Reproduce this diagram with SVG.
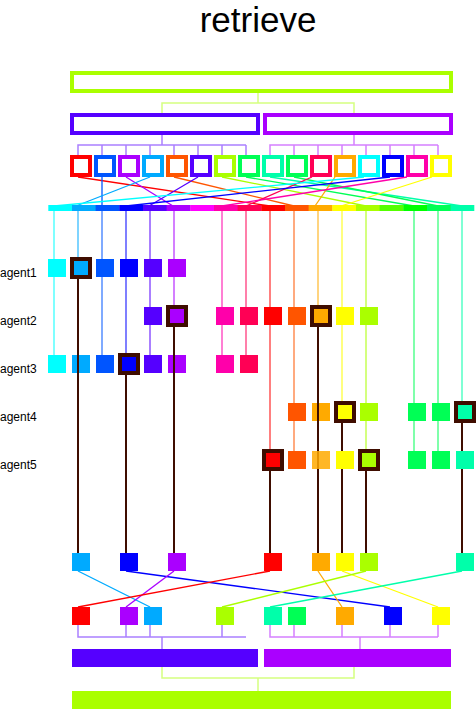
<svg xmlns="http://www.w3.org/2000/svg" width="476" height="710" viewBox="0 0 476 710">
<style>
.t{font-family:"Liberation Sans",Arial,Helvetica,sans-serif;fill:#000}
.lbl{font-size:12px}
.box{fill:#fff;stroke-width:4}
.br{fill:none;stroke-width:1.5;stroke-opacity:0.5}
.ln{fill:none;stroke-width:1.3}
.col{fill:none;stroke-width:2;stroke-opacity:0.5}
.dk{fill:none;stroke:#3f0d00;stroke-width:2}
.sel{stroke:#3f0d00;stroke-width:4}
</style>
<rect width="476" height="710" fill="#fff"/>
<text class="t" x="258" y="31.5" font-size="35" text-anchor="middle">retrieve</text>

<g id="connectors">
  <path class="br" stroke="#aaff00" d="M258,93V103M162,113V103H354V113"/>
  <path class="br" stroke="#5500ff" d="M162,135V145M78,155V145H246M102,145V155M126,145V155M150,145V155M174,145V155M198,145V155M222,145V155M246,145V155"/>
  <path class="br" stroke="#aa00ff" d="M354,135V145M270,155V145H438M294,145V155M318,145V155M342,145V155M366,145V155M390,145V155M414,145V155M438,145V155"/>
  <line class="ln" stroke="#ff0000" x1="78" y1="177" x2="270" y2="206"/>
  <line class="ln" stroke="#0055ff" x1="102" y1="177" x2="102" y2="206"/>
  <line class="ln" stroke="#aa00ff" x1="126" y1="177" x2="173" y2="206"/>
  <line class="ln" stroke="#00aaff" x1="150" y1="177" x2="76" y2="206"/>
  <line class="ln" stroke="#ff5500" x1="174" y1="177" x2="294" y2="206"/>
  <line class="ln" stroke="#5500ff" x1="198" y1="177" x2="149" y2="206"/>
  <line class="ln" stroke="#aaff00" x1="222" y1="177" x2="366" y2="206"/>
  <line class="ln" stroke="#00ff55" x1="246" y1="177" x2="414" y2="206"/>
  <line class="ln" stroke="#00ffaa" x1="270" y1="177" x2="462" y2="206"/>
  <line class="ln" stroke="#00ff55" x1="294" y1="177" x2="438" y2="206"/>
  <line class="ln" stroke="#ff0055" x1="312" y1="177" x2="246" y2="206"/>
  <line class="ln" stroke="#ffaa00" x1="335" y1="177" x2="315" y2="206"/>
  <line class="ln" stroke="#00ffff" x1="364" y1="177" x2="54" y2="206"/>
  <line class="ln" stroke="#0000ff" x1="390" y1="177" x2="126" y2="206"/>
  <line class="ln" stroke="#ff00aa" x1="407" y1="177" x2="222" y2="206"/>
  <line class="ln" stroke="#ffff00" x1="432" y1="177" x2="341" y2="206"/>
  <line class="col" stroke="#00ffff" x1="54" y1="211" x2="54" y2="364"/>
  <line class="col" stroke="#00aaff" x1="78" y1="211" x2="78" y2="364"/>
  <line class="col" stroke="#0055ff" x1="102" y1="211" x2="102" y2="364"/>
  <line class="col" stroke="#0000ff" x1="126" y1="211" x2="126" y2="364"/>
  <line class="col" stroke="#5500ff" x1="150" y1="211" x2="150" y2="364"/>
  <line class="col" stroke="#aa00ff" x1="174" y1="211" x2="174" y2="364"/>
  <line class="col" stroke="#ff00aa" x1="222" y1="211" x2="222" y2="364"/>
  <line class="col" stroke="#ff0055" x1="246" y1="211" x2="246" y2="364"/>
  <line class="col" stroke="#ff0000" x1="270" y1="211" x2="270" y2="460"/>
  <line class="col" stroke="#ff5500" x1="294" y1="211" x2="294" y2="460"/>
  <line class="col" stroke="#ffaa00" x1="318" y1="211" x2="318" y2="460"/>
  <line class="col" stroke="#ffff00" x1="342" y1="211" x2="342" y2="460"/>
  <line class="col" stroke="#aaff00" x1="366" y1="211" x2="366" y2="460"/>
  <line class="col" stroke="#00ff55" x1="414" y1="211" x2="414" y2="460"/>
  <line class="col" stroke="#00ff55" x1="438" y1="211" x2="438" y2="460"/>
  <line class="col" stroke="#00ffaa" x1="462" y1="211" x2="462" y2="460"/>
  <line class="ln" stroke="#00aaff" x1="78" y1="571" x2="150" y2="607"/>
  <line class="ln" stroke="#0000ff" x1="126" y1="571" x2="390" y2="607"/>
  <line class="ln" stroke="#aa00ff" x1="174" y1="571" x2="126" y2="607"/>
  <line class="ln" stroke="#ff0000" x1="270" y1="571" x2="78" y2="607"/>
  <line class="ln" stroke="#ffaa00" x1="318" y1="571" x2="342" y2="607"/>
  <line class="ln" stroke="#ffff00" x1="342" y1="571" x2="438" y2="607"/>
  <line class="ln" stroke="#aaff00" x1="366" y1="571" x2="222" y2="607"/>
  <line class="ln" stroke="#00ffaa" x1="462" y1="571" x2="270" y2="607"/>
  <path class="br" stroke="#5500ff" d="M78,625V637H246M126,625V637M150,625V637M222,625V637M162,637V649"/>
  <path class="br" stroke="#aa00ff" d="M270,625V637H438M294,625V637M342,625V637M390,625V637M438,625V637M360,637V649"/>
  <path class="br" stroke="#aaff00" d="M162,667V678H354V667M258,678V691"/>
</g>

<g id="root"><rect class="box" stroke="#aaff00" x="72" y="73" width="379" height="18"/></g>
<g id="groupA"><rect class="box" stroke="#5500ff" x="72" y="115" width="186" height="18"/></g>
<g id="groupB"><rect class="box" stroke="#aa00ff" x="265" y="115" width="186" height="18"/></g>

<g id="items">
  <g id="item0"><rect class="box" stroke="#ff0000" x="72" y="157" width="18" height="18"/></g>
  <g id="item1"><rect class="box" stroke="#0055ff" x="96" y="157" width="18" height="18"/></g>
  <g id="item2"><rect class="box" stroke="#aa00ff" x="120" y="157" width="18" height="18"/></g>
  <g id="item3"><rect class="box" stroke="#00aaff" x="144" y="157" width="18" height="18"/></g>
  <g id="item4"><rect class="box" stroke="#ff5500" x="168" y="157" width="18" height="18"/></g>
  <g id="item5"><rect class="box" stroke="#5500ff" x="192" y="157" width="18" height="18"/></g>
  <g id="item6"><rect class="box" stroke="#aaff00" x="216" y="157" width="18" height="18"/></g>
  <g id="item7"><rect class="box" stroke="#00ff55" x="240" y="157" width="18" height="18"/></g>
  <g id="item8"><rect class="box" stroke="#00ffaa" x="264" y="157" width="18" height="18"/></g>
  <g id="item9"><rect class="box" stroke="#00ff55" x="288" y="157" width="18" height="18"/></g>
  <g id="item10"><rect class="box" stroke="#ff0055" x="312" y="157" width="18" height="18"/></g>
  <g id="item11"><rect class="box" stroke="#ffaa00" x="336" y="157" width="18" height="18"/></g>
  <g id="item12"><rect class="box" stroke="#00ffff" x="360" y="157" width="18" height="18"/></g>
  <g id="item13"><rect class="box" stroke="#0000ff" x="384" y="157" width="18" height="18"/></g>
  <g id="item14"><rect class="box" stroke="#ff00aa" x="408" y="157" width="18" height="18"/></g>
  <g id="item15"><rect class="box" stroke="#ffff00" x="432" y="157" width="18" height="18"/></g>
</g>

<g id="hashring">
  <rect x="48.3" y="205" width="24" height="6" fill="#00ffff"/>
  <rect x="72" y="205" width="24" height="6" fill="#00aaff"/>
  <rect x="95.6" y="205" width="24" height="6" fill="#0055ff"/>
  <rect x="119.3" y="205" width="24" height="6" fill="#0000ff"/>
  <rect x="143" y="205" width="24" height="6" fill="#5500ff"/>
  <rect x="166.6" y="205" width="24" height="6" fill="#aa00ff"/>
  <rect x="190.3" y="205" width="24" height="6" fill="#ff00ff"/>
  <rect x="214" y="205" width="24" height="6" fill="#ff00aa"/>
  <rect x="237.6" y="205" width="24" height="6" fill="#ff0055"/>
  <rect x="261.3" y="205" width="24" height="6" fill="#ff0000"/>
  <rect x="285" y="205" width="24" height="6" fill="#ff5500"/>
  <rect x="308.6" y="205" width="24" height="6" fill="#ffaa00"/>
  <rect x="332.3" y="205" width="24" height="6" fill="#ffff00"/>
  <rect x="356" y="205" width="24" height="6" fill="#aaff00"/>
  <rect x="379.6" y="205" width="24" height="6" fill="#55ff00"/>
  <rect x="403.3" y="205" width="24" height="6" fill="#00ff00"/>
  <rect x="427" y="205" width="24" height="6" fill="#00ff55"/>
  <rect x="450.6" y="205" width="23.7" height="6" fill="#00ffaa"/>
</g>

<g id="labels">
  <text class="t lbl" x="0" y="277">agent1</text>
  <text class="t lbl" x="0" y="325">agent2</text>
  <text class="t lbl" x="0" y="373">agent3</text>
  <text class="t lbl" x="0" y="421">agent4</text>
  <text class="t lbl" x="0" y="469">agent5</text>
</g>

<g id="agent1">
  <rect x="48" y="259" width="18" height="18" fill="#00ffff"/>
  <rect x="96" y="259" width="18" height="18" fill="#0055ff"/>
  <rect x="120" y="259" width="18" height="18" fill="#0000ff"/>
  <rect x="144" y="259" width="18" height="18" fill="#5500ff"/>
  <rect x="168" y="259" width="18" height="18" fill="#aa00ff"/>
</g>
<g id="agent2">
  <rect x="144" y="307" width="18" height="18" fill="#5500ff"/>
  <rect x="216" y="307" width="18" height="18" fill="#ff00aa"/>
  <rect x="240" y="307" width="18" height="18" fill="#ff0055"/>
  <rect x="264" y="307" width="18" height="18" fill="#ff0000"/>
  <rect x="288" y="307" width="18" height="18" fill="#ff5500"/>
  <rect x="336" y="307" width="18" height="18" fill="#ffff00"/>
  <rect x="360" y="307" width="18" height="18" fill="#aaff00"/>
</g>
<g id="agent3">
  <rect x="48" y="355" width="18" height="18" fill="#00ffff"/>
  <rect x="72" y="355" width="18" height="18" fill="#00aaff"/>
  <rect x="96" y="355" width="18" height="18" fill="#0055ff"/>
  <rect x="144" y="355" width="18" height="18" fill="#5500ff"/>
  <rect x="168" y="355" width="18" height="18" fill="#aa00ff"/>
  <rect x="216" y="355" width="18" height="18" fill="#ff00aa"/>
  <rect x="240" y="355" width="18" height="18" fill="#ff0055"/>
</g>
<g id="agent4">
  <rect x="288" y="403" width="18" height="18" fill="#ff5500"/>
  <rect x="312" y="403" width="18" height="18" fill="#ffaa00"/>
  <rect x="360" y="403" width="18" height="18" fill="#aaff00"/>
  <rect x="408" y="403" width="18" height="18" fill="#00ff55"/>
  <rect x="432" y="403" width="18" height="18" fill="#00ff55"/>
</g>

<g id="picks">
  <line class="dk" x1="78" y1="268" x2="78" y2="553"/>
  <line class="dk" x1="174" y1="316" x2="174" y2="553"/>
  <line class="dk" x1="318" y1="316" x2="318" y2="553"/>
  <line class="dk" x1="126" y1="364" x2="126" y2="553"/>
  <line class="dk" x1="342" y1="412" x2="342" y2="553"/>
  <line class="dk" x1="462" y1="412" x2="462" y2="553"/>
  <line class="dk" x1="270" y1="460" x2="270" y2="553"/>
  <line class="dk" x1="366" y1="460" x2="366" y2="553"/>
</g>

<g id="agent5">
  <rect x="288" y="451" width="18" height="18" fill="#ff5500"/>
  <rect x="312" y="451" width="18" height="18" fill="#ffaa00" fill-opacity="0.85"/>
  <rect x="336" y="451" width="18" height="18" fill="#ffff00"/>
  <rect x="408" y="451" width="18" height="18" fill="#00ff55"/>
  <rect x="432" y="451" width="18" height="18" fill="#00ff55"/>
  <rect x="456" y="451" width="18" height="18" fill="#00ffaa"/>
</g>

<g id="selected">
  <rect class="sel" x="72" y="259" width="18" height="18" fill="#00aaff"/>
  <rect class="sel" x="168" y="307" width="18" height="18" fill="#aa00ff"/>
  <rect class="sel" x="312" y="307" width="18" height="18" fill="#ffaa00"/>
  <rect class="sel" x="120" y="355" width="18" height="18" fill="#0000ff"/>
  <rect class="sel" x="336" y="403" width="18" height="18" fill="#ffff00"/>
  <rect class="sel" x="456" y="403" width="18" height="18" fill="#00ffaa"/>
  <rect class="sel" x="264" y="451" width="18" height="18" fill="#ff0000"/>
  <rect class="sel" x="360" y="451" width="18" height="18" fill="#aaff00"/>
</g>

<g id="results">
  <rect x="72" y="553" width="18" height="18" fill="#00aaff"/>
  <rect x="120" y="553" width="18" height="18" fill="#0000ff"/>
  <rect x="168" y="553" width="18" height="18" fill="#aa00ff"/>
  <rect x="264" y="553" width="18" height="18" fill="#ff0000"/>
  <rect x="312" y="553" width="18" height="18" fill="#ffaa00"/>
  <rect x="336" y="553" width="18" height="18" fill="#ffff00"/>
  <rect x="360" y="553" width="18" height="18" fill="#aaff00"/>
  <rect x="456" y="553" width="18" height="18" fill="#00ffaa"/>
</g>

<g id="ordered">
  <rect x="72" y="607" width="18" height="18" fill="#ff0000"/>
  <rect x="120" y="607" width="18" height="18" fill="#aa00ff"/>
  <rect x="144" y="607" width="18" height="18" fill="#00aaff"/>
  <rect x="216" y="607" width="18" height="18" fill="#aaff00"/>
  <rect x="264" y="607" width="18" height="18" fill="#00ffaa"/>
  <rect x="288" y="607" width="18" height="18" fill="#00ff55"/>
  <rect x="336" y="607" width="18" height="18" fill="#ffaa00"/>
  <rect x="384" y="607" width="18" height="18" fill="#0000ff"/>
  <rect x="432" y="607" width="18" height="18" fill="#ffff00"/>
</g>

<g id="outA"><rect x="72" y="649" width="186" height="18" fill="#5500ff"/></g>
<g id="outB"><rect x="264" y="649" width="187" height="18" fill="#aa00ff"/></g>
<g id="outRoot"><rect x="72" y="691" width="379" height="18" fill="#aaff00"/></g>
</svg>
